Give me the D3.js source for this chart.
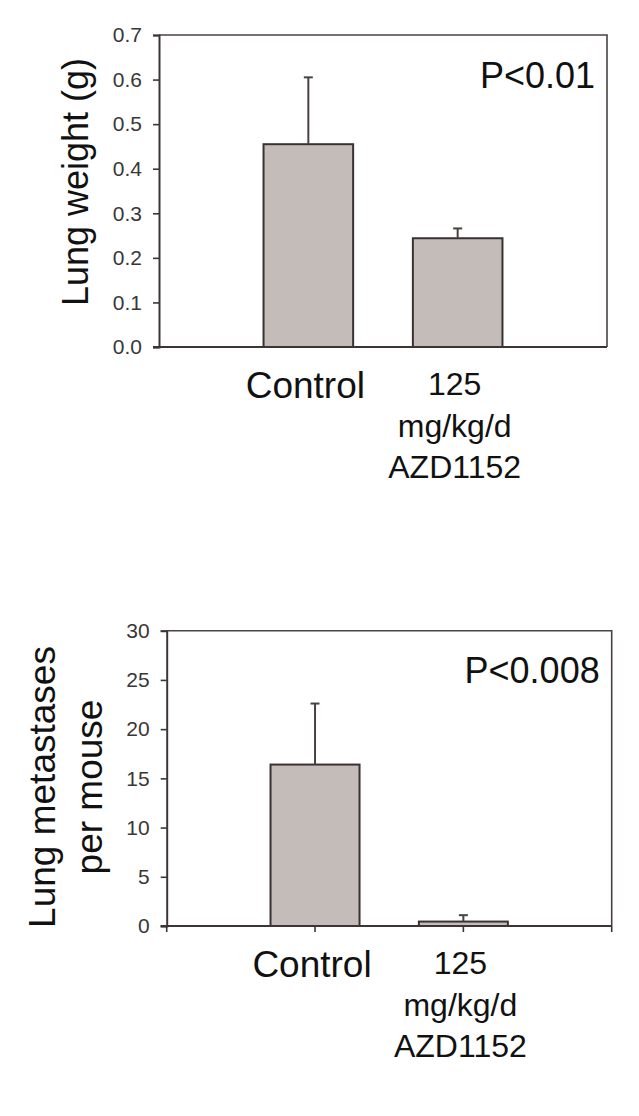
<!DOCTYPE html>
<html>
<head>
<meta charset="utf-8">
<script src="https://cdn.jsdelivr.net/npm/d3@7"></script>
<style>
  body { margin: 0; background: #fff; }
  svg { display: block; font-family: Arial, "Liberation Sans", sans-serif; }
</style>
</head>
<body>
<svg id="chart" width="639" height="1116"></svg>
<script>
// data
var groups = ["Control", "AZD1152"]
var groupLabels = [["Control"], ["125", "mg/kg/d", "AZD1152"]]
var weightMean = [0.455, 0.244]
var weightSE = [0.150, 0.022]
var weightTicks = [0, 0.1, 0.2, 0.3, 0.4, 0.5, 0.6, 0.7]
var metMean = [16.4, 0.45]
var metSE = [6.2, 0.65]
var metTicks = [0, 5, 10, 15, 20, 25, 30]

var svg = d3.select('#chart')

function panel(opt) {
    var g = svg.append('g')
    var x = d3.scalePoint().domain(groups).range([opt.x0, opt.x1]).padding(1)
    var y = d3.scaleLinear().domain([0, opt.max]).range([opt.y1, opt.y0])
    var bw = x.step() * 0.6

    // frame top and right
    g.append('path')
        .attr('d', `M${opt.x0},${opt.y0}H${opt.x1}V${opt.y1}`)
        .attr('fill', 'none')
        .attr('stroke', '#4a4242')
        .attr('stroke-width', 1.6)

    // bars
    var data = groups.map((k, i) => ({ k: k, m: opt.mean[i], e: opt.se[i] }))
    g.selectAll('rect.bar')
        .data(data)
        .join('rect')
        .attr('class', 'bar')
        .attr('x', d => x(d.k) - bw / 2)
        .attr('width', bw)
        .attr('y', d => y(d.m))
        .attr('height', d => y(0) - y(d.m))
        .attr('fill', '#c4bcb9')
        .attr('stroke', '#3a3232')
        .attr('stroke-width', 2)

    // error bars (upper only)
    var eb = g.selectAll('g.err').data(data).join('g').attr('class', 'err')
    eb.append('line')
        .attr('x1', d => x(d.k)).attr('x2', d => x(d.k))
        .attr('y1', d => y(d.m)).attr('y2', d => y(d.m + d.e))
        .attr('stroke', '#4a4242').attr('stroke-width', 2)
    eb.append('line')
        .attr('x1', d => x(d.k) - 4.5).attr('x2', d => x(d.k) + 4.5)
        .attr('y1', d => y(d.m + d.e)).attr('y2', d => y(d.m + d.e))
        .attr('stroke', '#4a4242').attr('stroke-width', 2)

    // y axis
    var ya = d3.axisLeft(y).tickValues(opt.ticks).tickFormat(opt.fmt).tickSize(6).tickPadding(11)
    var yg = g.append('g').attr('transform', `translate(${opt.x0},0)`).call(ya)
    yg.attr('font-size', null).attr('font-family', null)
    yg.select('.domain').attr('stroke', '#3d3535').attr('stroke-width', 2)
    yg.selectAll('.tick line').attr('stroke', '#3d3535').attr('stroke-width', 1.6)
    yg.selectAll('.tick text')
        .style('font-size', '21px')
        .style('font-family', 'Arial, "Liberation Sans", sans-serif')
        .attr('fill', '#3a3636')

    // x axis
    g.append('line')
        .attr('x1', opt.x0 - 6).attr('x2', opt.x1)
        .attr('y1', y(0)).attr('y2', y(0))
        .attr('stroke', '#3d3535').attr('stroke-width', 2)
    if (opt.xticks) {
        var tx = [opt.x0].concat(groups.map(k => x(k))).concat([opt.x1])
        g.selectAll('line.xt').data(tx).join('line')
            .attr('class', 'xt')
            .attr('x1', d => d).attr('x2', d => d)
            .attr('y1', y(0)).attr('y2', y(0) + 6)
            .attr('stroke', '#3d3535').attr('stroke-width', 1.6)
    }

    // category labels
    groupLabels.forEach((lines, i) => {
        var t = g.append('text')
            .attr('text-anchor', 'middle')
            .attr('fill', '#111')
            .attr('font-size', i == 0 ? 37 : 32)
        lines.forEach((s, j) => {
            t.append('tspan')
                .attr('x', x(groups[i]) - 3)
                .attr('y', opt.y1 + (i == 0 ? 51 : 48) + j * 41.5)
                .text(s)
        })
    })

    // p value
    g.append('text')
        .attr('x', opt.x1 - 12).attr('y', opt.pY)
        .attr('text-anchor', 'end')
        .attr('font-size', 36)
        .attr('fill', '#111')
        .text(opt.p)

    // y title
    var yt = g.append('text')
        .attr('transform', `translate(${opt.titleX},${opt.titleY}) rotate(-90)`)
        .attr('text-anchor', 'middle')
        .attr('font-size', opt.titleSize)
        .attr('fill', '#111')
    opt.title.forEach((s, j) => {
        yt.append('tspan').attr('x', 0).attr('y', j * 47).text(s)
    })
}

panel({
    x0: 159, x1: 607, y0: 35, y1: 347,
    max: 0.7, mean: weightMean, se: weightSE, ticks: weightTicks,
    fmt: d3.format('.1f'), xticks: false,
    p: 'P<0.01', pY: 88,
    title: ['Lung weight (g)'], titleX: 88, titleY: 182, titleSize: 36
})

panel({
    x0: 166.7, x1: 611.7, y0: 630.7, y1: 926,
    max: 30, mean: metMean, se: metSE, ticks: metTicks,
    fmt: d3.format('d'), xticks: true,
    p: 'P<0.008', pY: 683,
    title: ['Lung metastases', 'per mouse'], titleX: 55, titleY: 787, titleSize: 37
})
</script>
</body>
</html>
